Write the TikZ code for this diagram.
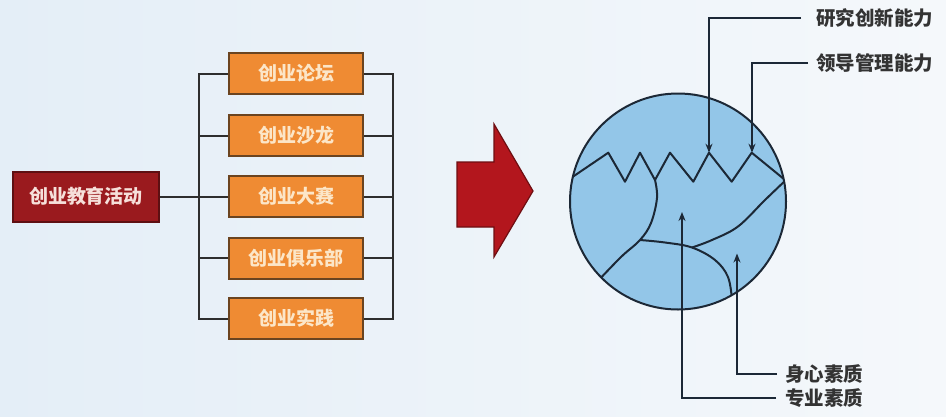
\documentclass[tikz,border=0pt]{standalone}
\usepackage{fontspec}
\newfontfamily\cjk{Noto Sans CJK SC}
\usetikzlibrary{arrows.meta}
\definecolor{bgl}{HTML}{E4EEF7}
\definecolor{bgr}{HTML}{F5F8FB}
\definecolor{ofill}{HTML}{EF8B33}
\definecolor{oedge}{HTML}{6B4420}
\definecolor{otext}{HTML}{FCE6C8}
\definecolor{rfill}{HTML}{9A1A1E}
\definecolor{redge}{HTML}{5E0F12}
\definecolor{rtext}{HTML}{F6E0DA}
\definecolor{afill}{HTML}{B3161D}
\definecolor{aedge}{HTML}{6E0E12}
\definecolor{cfill}{HTML}{93C6E8}
\definecolor{cline}{HTML}{1C2836}
\definecolor{conncol}{HTML}{2E2E2E}
\definecolor{labcol}{HTML}{333333}
\begin{document}
\begin{tikzpicture}[x=1pt,y=-1pt,
  redbox/.style={draw=redge, fill=rfill, line width=2pt, minimum width=146pt, minimum height=50pt, inner sep=0pt, text=rtext, font=\cjk\bfseries\fontsize{19}{19}\selectfont},
  obox/.style={draw=oedge, fill=ofill, line width=2pt, minimum width=134pt, minimum height=41pt, inner sep=0pt, text=otext, font=\cjk\bfseries\fontsize{19}{19}\selectfont},
  conn/.style={draw=conncol, line width=2pt},
  inner/.style={draw=cline, line width=2pt, line join=round},
  callout/.style={draw=cline, line width=2pt, -{Stealth[length=9pt,width=7pt]}},
  lab/.style={anchor=west, inner xsep=0pt, inner ysep=0pt, text=labcol, font=\cjk\bfseries\fontsize{19.5}{19.5}\selectfont}
]
\fill[left color=bgl, right color=bgr] (0,0) rectangle (946,416);
\useasboundingbox (0,0) rectangle (946,416);

% left part
\node[redbox] (main) at (86,196.5) {创业教育活动};
\node[obox] (b1) at (296,73.5) {创业论坛};
\node[obox] (b2) at (296,135.5) {创业沙龙};
\node[obox] (b3) at (296,196.5) {创业大赛};
\node[obox] (b4) at (296,258) {创业俱乐部};
\node[obox] (b5) at (296,318.5) {创业实践};
\coordinate (lbus) at (199,0);
\coordinate (rbus) at (393,0);

\draw[conn] (main.east) -- (b3.west);
\draw[conn] (b1.west) -- (b1.west -| lbus) -- (b5.west -| lbus) -- (b5.west);
\draw[conn] (b2.west) -- (b2.west -| lbus);
\draw[conn] (b4.west) -- (b4.west -| lbus);
\draw[conn] (b1.east) -- (b1.east -| rbus) -- (b5.east -| rbus) -- (b5.east);
\draw[conn] (b2.east) -- (b2.east -| rbus);
\draw[conn] (b3.east) -- (b3.east -| rbus);
\draw[conn] (b4.east) -- (b4.east -| rbus);

% big arrow
\draw[fill=afill, draw=aedge, line width=1.2pt, line join=miter]
  (457,162) -- (494,162) -- (494,124) -- (533,191) -- (494,257) -- (494,227) -- (457,227) -- cycle;

% circle
\node[circle, fill=cfill, minimum size=216pt, inner sep=0pt] (ball) at (678,201.5) {};
\begin{scope}
\clip (678,201.5) circle[radius=108];
\draw[inner] (568,180) -- (608.3,152.7) -- (625,181.7) -- (640,152.7) -- (655,180)
  -- (670,152.7) -- (693.3,181.7) -- (709,152.7) -- (731.7,181.7) -- (751.7,152.7) -- (790,184);
\draw[inner] plot[smooth, tension=0.6] coordinates {(655,180) (657,198) (651,223) (640,240) (621,257) (596,283)};
\draw[inner] plot[smooth, tension=0.6] coordinates {(640,240) (665,242.5) (692,247.5) (715,260) (728,277) (732,300)};
\draw[inner] plot[smooth, tension=0.6] coordinates {(788,178) (765,200) (738,226.5) (712,240) (692,247.5)};
\end{scope}
\draw[draw=cline, line width=2pt] (ball.center) circle[radius=108];

% callouts
\coordinate (t1) at (709,152.7);
\coordinate (t2) at (752,152.7);
\coordinate (t3) at (737,253.5);
\coordinate (t4) at (682,212);
\node[lab] (l1) at (816,18) {研究创新能力};
\node[lab] (l2) at (816,63) {领导管理能力};
\node[lab] (l3) at (785,374) {身心素质};
\node[lab] (l4) at (785,398) {专业素质};
\draw[callout, shorten <=15pt] (l1.west) -| (t1);
\draw[callout, shorten <=8pt] (l2.west) -| (t2);
\draw[callout, shorten <=8pt] (l3.west) -| (t3);
\draw[callout, shorten <=9pt] (l4.west) -| (t4);
\end{tikzpicture}
\end{document}
